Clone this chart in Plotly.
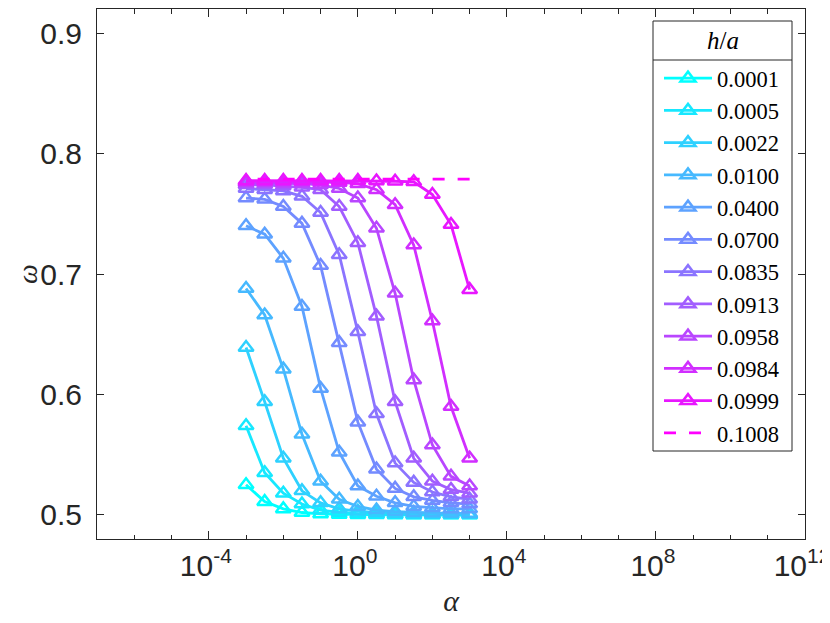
import plotly.graph_objects as go

# ---------------- data ----------------
alpha = [1e-3, 3.162e-3, 1e-2, 3.162e-2, 1e-1, 3.162e-1, 1.0, 3.162, 10.0, 31.62, 100.0, 316.2, 1000.0]

h_over_a = ["0.0001", "0.0005", "0.0022", "0.0100", "0.0400", "0.0700",
            "0.0835", "0.0913", "0.0958", "0.0984", "0.0999", "0.1008"]

w_0001 = [0.525, 0.511, 0.505, 0.502, 0.5008, 0.5004, 0.5002, 0.5001, 0.5000, 0.5000, 0.4999, 0.4999, 0.4999]
w_0005 = [0.574, 0.535, 0.518, 0.509, 0.504, 0.502, 0.501, 0.5005, 0.5003, 0.5002, 0.5001, 0.5001, 0.5001]
w_0022 = [0.639, 0.594, 0.547, 0.520, 0.510, 0.505, 0.503, 0.5018, 0.5012, 0.5008, 0.5006, 0.5005, 0.5004]
w_0100 = [0.688, 0.666, 0.621, 0.567, 0.528, 0.513, 0.507, 0.504, 0.5028, 0.502, 0.5016, 0.5013, 0.5012]
w_0400 = [0.740, 0.733, 0.713, 0.673, 0.605, 0.552, 0.524, 0.5155, 0.510, 0.507, 0.506, 0.505, 0.505]
w_0700 = [0.763, 0.762, 0.756, 0.742, 0.707, 0.643, 0.577, 0.538, 0.522, 0.515, 0.512, 0.510, 0.509]
w_0835 = [0.771, 0.770, 0.769, 0.7645, 0.751, 0.716, 0.652, 0.584, 0.543, 0.527, 0.519, 0.515, 0.513]
w_0913 = [0.774, 0.774, 0.773, 0.772, 0.770, 0.756, 0.726, 0.665, 0.594, 0.547, 0.528, 0.521, 0.518]
w_0958 = [0.7755, 0.7755, 0.775, 0.775, 0.774, 0.771, 0.763, 0.738, 0.684, 0.612, 0.558, 0.532, 0.524]
w_0984 = [0.7765, 0.7765, 0.7765, 0.7765, 0.7762, 0.776, 0.775, 0.770, 0.7575, 0.724, 0.661, 0.590, 0.547]
w_0999 = [0.7775, 0.7775, 0.7775, 0.7775, 0.7775, 0.7775, 0.7775, 0.7772, 0.777, 0.7765, 0.766, 0.741, 0.687]
w_1008 = [0.7788, 0.7788, 0.7788, 0.7788, 0.7788, 0.7788, 0.7788, 0.7788, 0.7788, 0.7788, 0.7788, 0.7788, 0.7788]

series = [w_0001, w_0005, w_0022, w_0100, w_0400, w_0700,
          w_0835, w_0913, w_0958, w_0984, w_0999, w_1008]

legend_title = "<i>h</i>/<i>a</i>"
x_title = "<i>α</i>"
y_title = "<i>ω</i>"
x_tickvals = [1e-4, 1e0, 1e4, 1e8, 1e12]
x_ticktext = ["10<sup>-4</sup>", "10<sup>0</sup>", "10<sup>4</sup>", "10<sup>8</sup>", "10<sup>12</sup>"]
x_minorvals = [10.0 ** k for k in range(-7, 13)]
y_tickvals = [0.5, 0.6, 0.7, 0.8, 0.9]
y_ticktext = ["0.5", "0.6", "0.7", "0.8", "0.9"]

# ---------------- styles ----------------
colors = ["#00FFFF", "#17E8FF", "#2ED1FF", "#46B9FF", "#5DA2FF", "#748BFF",
          "#8B74FF", "#A25DFF", "#B946FF", "#D12EFF", "#E817FF", "#FF00FF"]
AX = "#262626"

# plot area in pixels: x 89..797, y 1..531
PL, PR, PT, PB = 89.0, 797.0, 1.0, 531.0
def px(xp):
    return (xp - PL) / (PR - PL)
def py(yp):
    return 1 - (yp - PT) / (PB - PT)

fig = go.Figure()
n = len(series)
for k in range(n):
    if k < n - 1:
        fig.add_trace(go.Scatter(
            x=alpha, y=series[k], name=h_over_a[k], mode="lines+markers",
            line=dict(color=colors[k], width=2.8),
            marker=dict(symbol="triangle-up-open", size=13,
                        color=colors[k], line=dict(color=colors[k], width=2.5)),
        ))
    else:
        fig.add_trace(go.Scatter(
            x=alpha[::-1], y=series[k][::-1], name=h_over_a[k], mode="lines",
            line=dict(color=colors[k], width=2.8, dash="12px,13px"),
        ))

tickfont = dict(family="Liberation Sans, Arial, sans-serif", size=30, color=AX)

# legend frame and header rule (legend itself is drawn transparent on top)
fig.add_shape(type="rect", xref="paper", yref="paper",
              x0=px(645), x1=px(784), y0=py(443), y1=py(13),
              fillcolor="white", line=dict(color=AX, width=1), layer="above")
fig.add_shape(type="line", xref="paper", yref="paper",
              x0=px(645), x1=px(784), y0=py(52), y1=py(52),
              line=dict(color=AX, width=1), layer="above")
fig.add_annotation(xref="paper", yref="paper", x=px(714.5), y=py(33),
                   xanchor="center", yanchor="middle", showarrow=False,
                   text=legend_title,
                   font=dict(family="Liberation Serif, serif", size=25, color="black"))
# y-axis title
fig.add_annotation(xref="paper", yref="paper", x=px(19), y=py(266),
                   xanchor="center", yanchor="middle", showarrow=False,
                   text=y_title, textangle=-90, borderpad=0,
                   font=dict(family="Liberation Serif, serif", size=28, color=AX))

fig.update_layout(
    width=830, height=623,
    margin=dict(l=89, r=33, t=1, b=92),
    paper_bgcolor="white", plot_bgcolor="white",
    showlegend=True,
    legend=dict(
        x=px(651), y=py(49), xanchor="left", yanchor="top",
        bgcolor="rgba(0,0,0,0)", borderwidth=0,
        font=dict(family="Liberation Serif, serif", size=22.5, color="black"),
        itemwidth=48, tracegroupgap=0,
    ),
    xaxis=dict(
        type="log", range=[-7, 12], automargin=False,
        tickmode="array", tickvals=x_tickvals, ticktext=x_ticktext,
        ticks="inside", ticklen=8, tickwidth=1, tickcolor=AX,
        ticklabelshift=-3,
        minor=dict(tickmode="array", tickvals=x_minorvals, ticks="inside",
                   ticklen=4.5, tickwidth=1, tickcolor=AX, showgrid=False),
        showline=True, linecolor=AX, linewidth=1, mirror="ticks",
        showgrid=False, zeroline=False, tickfont=tickfont,
        title=dict(text=x_title, font=dict(family="Liberation Serif, serif", size=30, color=AX),
                   standoff=8),
    ),
    yaxis=dict(
        range=[0.48, 0.92], automargin=False,
        tickmode="array", tickvals=y_tickvals, ticktext=y_ticktext,
        ticks="inside", ticklen=7, tickwidth=1, tickcolor=AX,
        ticklabelstandoff=8,
        showline=True, linecolor=AX, linewidth=1, mirror="ticks",
        showgrid=False, zeroline=False, tickfont=tickfont,
    ),
)

fig.write_html("out.html")
